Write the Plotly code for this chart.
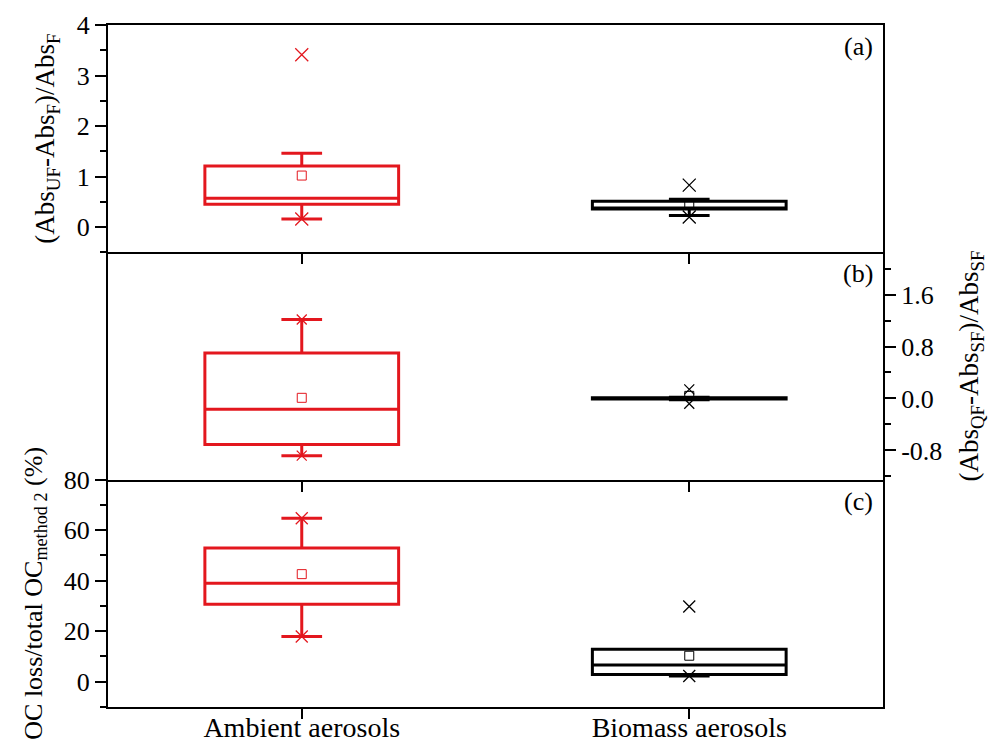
import plotly.graph_objects as go
from plotly.subplots import make_subplots

categories = ["Ambient aerosols", "Biomass aerosols"]
colors = ["#e3171e", "#000000"]

# panel (a)
a_q1 = [0.45, 0.36]
a_med = [0.57, 0.37]
a_q3 = [1.21, 0.51]
a_low = [0.16, 0.23]
a_up = [1.46, 0.55]
a_mean = [1.02, 0.44]
a_min = [0.16, 0.20]
a_max = [3.41, 0.83]

# panel (b)
b_q1 = [-0.71, -0.01]
b_med = [-0.165, 0.0]
b_q3 = [0.70, 0.01]
b_low = [-0.88, -0.02]
b_up = [1.215, 0.02]
b_mean = [0.01, 0.04]
b_min = [-0.88, -0.08]
b_max = [1.215, 0.14]

# panel (c)
c_q1 = [30.7, 2.9]
c_med = [39.0, 6.6]
c_q3 = [52.9, 12.9]
c_low = [17.9, 2.3]
c_up = [64.7, 12.9]
c_mean = [42.6, 10.3]
c_min = [17.9, 2.3]
c_max = [64.7, 29.8]

b_tickvals = [-0.8, 0.0, 0.8, 1.6]
b_ticktext = ["-0.8", "0.0", "0.8", "1.6"]

panels = [
    (a_q1, a_med, a_q3, a_low, a_up, a_mean, a_min, a_max),
    (b_q1, b_med, b_q3, b_low, b_up, b_mean, b_min, b_max),
    (c_q1, c_med, c_q3, c_low, c_up, c_mean, c_min, c_max),
]
marker_sizes = [13, 10, 12]

FONT = "Liberation Serif"

fig = make_subplots(rows=3, cols=1, shared_xaxes=True, vertical_spacing=0.0)

for r, (q1, med, q3, low, up, mean, mn, mx) in enumerate(panels, start=1):
    for i, cat in enumerate(categories):
        fig.add_trace(go.Box(
            x=[cat], q1=[q1[i]], median=[med[i]], q3=[q3[i]],
            lowerfence=[low[i]], upperfence=[up[i]],
            boxpoints=False, width=0.5, whiskerwidth=0.21,
            line=dict(color=colors[i], width=3),
            fillcolor="rgba(0,0,0,0)", showlegend=False, hoverinfo="skip"),
            row=r, col=1)
        fig.add_trace(go.Scatter(
            x=[cat], y=[mean[i]], mode="markers", showlegend=False,
            marker=dict(symbol="square-open", size=9,
                        color=colors[i], line=dict(width=1))),
            row=r, col=1)
        fig.add_trace(go.Scatter(
            x=[cat, cat], y=[mn[i], mx[i]], mode="markers", showlegend=False,
            marker=dict(symbol="x-thin", size=marker_sizes[r - 1],
                        line=dict(color=colors[i], width=1.3))),
            row=r, col=1)

axis_common = dict(showline=True, linecolor="black", linewidth=2,
                   showgrid=False, zeroline=False, automargin=False,
                   tickfont=dict(family=FONT, size=26, color="black"),
                   tickcolor="black", tickwidth=2)

for r in range(1, 4):
    fig.update_xaxes(axis_common, type="category", range=[-0.5, 1.5],
                     mirror=(r == 1),
                     ticks="outside", ticklen=10,
                     showticklabels=(r == 3),
                     ticklabelstandoff=-16,
                     tickfont=dict(family=FONT, size=28, color="black"),
                     row=r, col=1)

title_font = dict(family=FONT, size=27, color="black")

fig.update_yaxes(axis_common, row=1, col=1, range=[-0.5, 4], dtick=1,
                 mirror=True, ticks="outside", ticklen=11,
                 minor=dict(ticks="outside", ticklen=6, dtick=0.5,
                            tickcolor="black", tickwidth=2, showgrid=False),
                 title=dict(text="(Abs<sub>UF</sub>-Abs<sub>F</sub>)/Abs<sub>F</sub>",
                            font=title_font, standoff=14))
fig.update_yaxes(axis_common, row=2, col=1, range=[-1.25, 2.25], side="right",
                 mirror=True, tickvals=b_tickvals, ticktext=b_ticktext,
                 ticks="outside", ticklen=11,
                 minor=dict(ticks="outside", ticklen=6, dtick=0.4, tick0=0,
                            tickcolor="black", tickwidth=2, showgrid=False),
                 title=dict(text="(Abs<sub>QF</sub>-Abs<sub>SF</sub>)/Abs<sub>SF</sub>",
                            font=title_font, standoff=18))
fig.update_yaxes(axis_common, row=3, col=1, range=[-10, 80], dtick=20,
                 mirror=True, ticks="outside", ticklen=11,
                 minor=dict(ticks="outside", ticklen=6, dtick=10,
                            tickcolor="black", tickwidth=2, showgrid=False),
                 title=dict(text="OC loss/total OC<sub>method 2</sub> (%)",
                            font=dict(family=FONT, size=26, color="black"),
                            standoff=14))

for r, lab in zip(range(1, 4), ["(a)", "(b)", "(c)"]):
    yref = "y domain" if r == 1 else f"y{r} domain"
    xref = "x domain" if r == 1 else f"x{r} domain"
    fig.add_annotation(text=lab, x=0.99, y=0.905, xref=xref, yref=yref,
                       xanchor="right", yanchor="middle", showarrow=False,
                       font=dict(family=FONT, size=26, color="black"))

fig.update_layout(width=992, height=742,
                  margin=dict(l=108, r=109, t=25, b=35),
                  paper_bgcolor="white", plot_bgcolor="white",
                  font=dict(family=FONT, color="black"))

fig.write_html("out.html")
